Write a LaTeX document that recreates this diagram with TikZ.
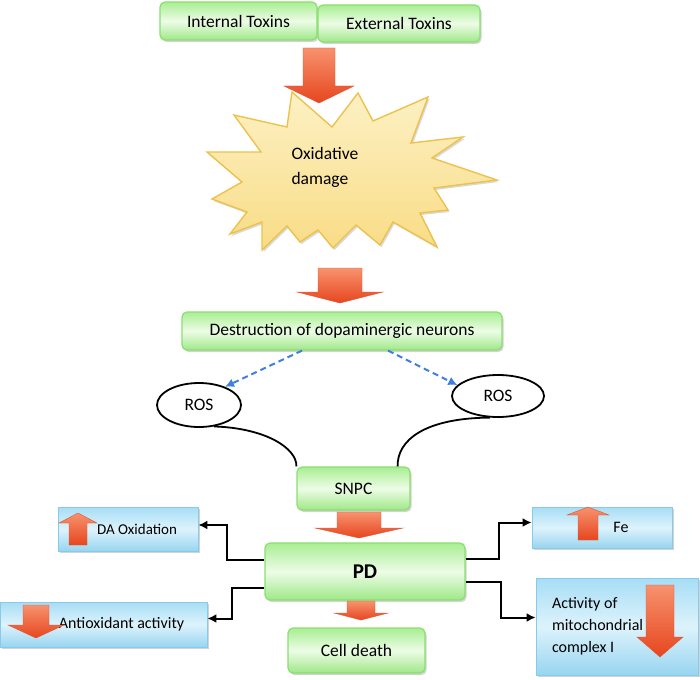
\documentclass[tikz,border=0pt]{standalone}
\usepackage{fontspec}
\setmainfont{Carlito}
\usetikzlibrary{shapes.geometric,shadows,calc,arrows.meta}

\definecolor{greentop}{HTML}{A9EE92}
\definecolor{greenmid}{HTML}{EDFCE7}
\definecolor{greenbot}{HTML}{9FE887}
\definecolor{greenline}{HTML}{8ADF70}
\definecolor{bluetop}{HTML}{A7DDF5}
\definecolor{bluemid}{HTML}{DDF3FC}
\definecolor{bluebot}{HTML}{98D5F0}
\definecolor{blueline}{HTML}{86CBEA}
\definecolor{arrowtop}{HTML}{F7926E}
\definecolor{arrowbot}{HTML}{E6461F}
\definecolor{arrowline}{HTML}{E0552F}
\definecolor{bursttop}{HTML}{FDF1C4}
\definecolor{burstbot}{HTML}{F8DC86}
\definecolor{burstline}{HTML}{EDC24C}
\definecolor{sprayblue}{HTML}{3F7FE0}

\begin{document}
\begin{tikzpicture}[x=1pt, y=-1pt,
  every node/.style={font=\fontsize{17.5}{21}\selectfont},
  greenbox/.style={rectangle, rounded corners=5pt, draw=greenline, line width=1.2pt,
    top color=greentop, bottom color=greenbot, middle color=greenmid,
    drop shadow={shadow xshift=1.5pt, shadow yshift=-2pt, opacity=.35}},
  bluebox/.style={rectangle, draw=blueline, line width=.8pt,
    top color=bluetop, bottom color=bluebot, middle color=bluemid,
    font=\fontsize{16}{22}\selectfont,
    drop shadow={shadow xshift=1.5pt, shadow yshift=-2pt, opacity=.35}},
  rosbubble/.style={ellipse, draw, line width=1.8pt, fill=white, inner sep=0pt},
  blockarrow/.style={top color=arrowtop, bottom color=arrowbot, draw=arrowline, line width=.4pt},
  burst/.style={top color=bursttop, bottom color=burstbot, draw=burstline, line width=1.4pt,
    drop shadow={shadow xshift=1.5pt, shadow yshift=-2pt, opacity=.3}},
  link/.style={line width=2pt, -{Latex[length=9pt,width=9pt]}},
  spray/.style={sprayblue, line width=2pt, dash pattern=on 6pt off 4pt, -{Latex[length=9pt,width=9pt]}},
  tether/.style={line width=1.8pt}]

  \useasboundingbox (0,0) rectangle (700,679);

  % x, shaft end, head base, tip, shaft half width, head half width
  \def\fatarrow#1#2#3#4#5#6{%
    \path[blockarrow] ({#1-#5},#2) -- ({#1-#5},#3) -- ({#1-#6},#3) -- (#1,#4)
      -- ({#1+#6},#3) -- ({#1+#5},#3) -- ({#1+#5},#2) -- cycle;}

  % toxins
  \node[greenbox, minimum width=157, minimum height=38] (intTox) at (238.5,21) {Internal Toxins};
  \node[greenbox, minimum width=162, minimum height=37] (extTox) at (399,23.5) {External Toxins};

  % oxidative damage
  \path[burst] (358,93) -- (373,121) -- (428,97) -- (411,143) -- (463,137) -- (432,158)
    -- (497,180) -- (434,188) -- (448,210) -- (420,213) -- (437,247) -- (393,222)
    -- (380,245) -- (356,225) -- (333,248) -- (318,230) -- (300,242) -- (287,226)
    -- (262,250) -- (262,222) -- (230,234) -- (247,212) -- (212,199) -- (242,182)
    -- (207,152) -- (261,152) -- (234,115) -- (287,127) -- (292,92) -- (332,127) -- cycle;
  \node[align=left, anchor=west, font=\fontsize{17.5}{25}\selectfont] (oxd) at (288,167) {Oxidative\\damage};

  \fatarrow{319}{48}{86}{103}{16}{35}
  \fatarrow{340}{268}{292}{303}{22}{43}

  \node[greenbox, minimum width=320, minimum height=38] (dest) at (342,331) {Destruction of dopaminergic neurons};

  \node[rosbubble, minimum width=84, minimum height=44] (rosL) at (199,405) {ROS};
  \node[rosbubble, minimum width=92, minimum height=42] (rosR) at (498,396) {ROS};

  \draw[spray] ($(dest.south)+(-40,0)$) -- (rosL.35);
  \draw[spray] ($(dest.south)+(46,0)$) -- (rosR.165);

  \node[greenbox, minimum width=113, minimum height=43] (snpc) at (353.5,488.5) {SNPC};

  \draw[tether] (rosL.-55) .. controls (265,428) and (297,448) .. (snpc.north west);
  \draw[tether] (rosR.-110) .. controls (425,418) and (397,440) .. ($(snpc.north east)+(-13,0)$);

  \node[greenbox, minimum width=200, minimum height=57,
        font=\fontsize{21}{25}\selectfont\bfseries] (pd) at (365,571.5) {PD};
  \node[greenbox, minimum width=137, minimum height=45] (cell) at (356.5,650.5) {Cell death};

  \fatarrow{359}{512}{528}{538}{22}{44}
  \fatarrow{361}{601}{613}{620}{14}{27}

  % effects
  \node[bluebox, minimum width=140, minimum height=44, font=\fontsize{15}{18}\selectfont] (daox) at (128,529) {\hspace{18pt}DA Oxidation};
  \node[bluebox, minimum width=207, minimum height=45] (antiox) at (103.5,624.5) {\hspace{36pt}Antioxidant activity};
  \node[bluebox, minimum width=140, minimum height=41] (fe) at (602,527.5) {\hspace{38pt}Fe};
  \node[bluebox, minimum width=162, minimum height=97, align=flush left, text width=130] (mito) at (617,626.5)
    {Activity of\\mitochondrial\\complex I\\[5pt]};

  \fatarrow{78}{545}{523}{513}{9}{19}
  \fatarrow{36}{605}{625}{638}{13}{28}
  \fatarrow{588}{540}{515}{507}{10}{21}
  \fatarrow{660}{585}{637}{657}{14}{23}

  \draw[link] ([yshift=12pt]pd.west) -- ++(-37,0) |- ([yshift=4pt]daox.east);
  \draw[link] ([yshift=-16pt]pd.west) -- ++(-32,0) |- ([yshift=6pt]antiox.east);
  \draw[link] ([yshift=13pt]pd.east) -- ++(33,0) |- ([yshift=5pt]fe.west);
  \draw[link] ([yshift=-10pt]pd.east) -- ++(35,0) |- ([yshift=9pt]mito.west);

\end{tikzpicture}
\end{document}
